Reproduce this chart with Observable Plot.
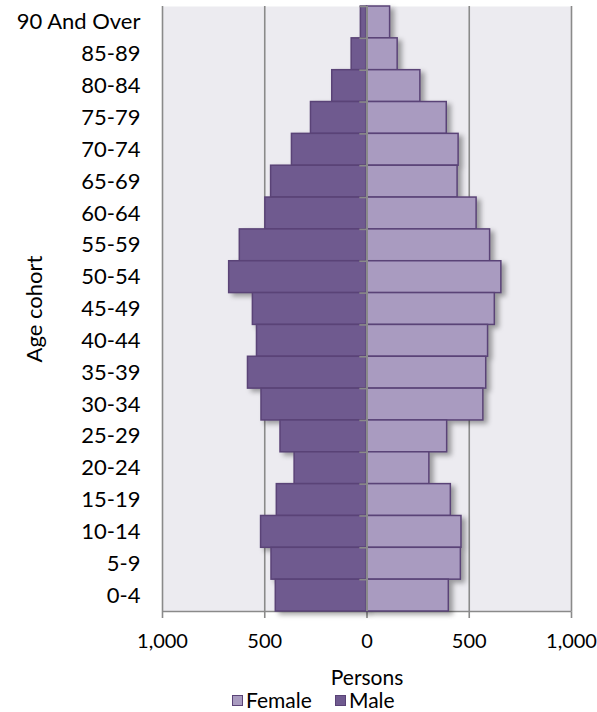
<!DOCTYPE html>
<html>
<head>
<meta charset="utf-8">
<script src="https://cdn.jsdelivr.net/npm/d3@7"></script>
<script src="https://cdn.jsdelivr.net/npm/@observablehq/plot@0.6"></script>
<style>
  body { margin: 0; background: #fff; font-family: Lato, "Open Sans", sans-serif; }
  #wrap { width: 597px; position: relative; }
  #wrap svg { overflow: visible; }
  #legend { height: 24px; position: relative; font-size: 21px; line-height: 22px; color: #000; }
  .item { position: absolute; top: 1px; height: 22px; display: flex; align-items: center; }
  .sw { width: 9px; height: 9px; border: 1px solid #5A4377; margin-right: 3px; }
</style>
</head>
<body>
<div id="wrap"></div>
<script>
const ages = ["90 And Over","85-89","80-84","75-79","70-74","65-69","60-64","55-59","50-54","45-49","40-44","35-39","30-34","25-29","20-24","15-19","10-14","5-9","0-4"];
const male =   [30, 75, 170, 274, 367, 469, 497, 622, 674, 558, 538, 582, 516, 423, 354, 441, 518, 467, 446];
const female = [113, 150, 261, 390, 448, 443, 536, 602, 657, 625, 592, 583, 569, 392, 305, 410, 462, 459, 400];
const xTicks = [-1000, -500, 0, 500, 1000];

const data = ages.map((a, i) => ({age: a, male: male[i], female: female[i]}));

const H = 688, mTop = 6, mBottom = H - 611;
const bw = (611 - mTop) / ages.length;

const chart = Plot.plot({
  width: 597,
  height: H,
  marginTop: mTop,
  marginBottom: mBottom,
  marginLeft: 162,
  marginRight: 26,
  style: {fontFamily: "Lato, 'Open Sans', sans-serif", fontSize: "22px", color: "#000", background: "#fff", overflow: "visible"},
  x: {
    domain: [-1000, 1000],
    ticks: xTicks,
    tickFormat: d => d3.format(",")(Math.abs(d)),
    tickSize: 7,
    tickPadding: 15,
    label: null
  },
  y: {
    domain: ages,
    padding: 0,
    round: false,
    tickSize: 0,
    tickPadding: 22,
    label: "Age cohort",
    labelAnchor: "center",
    labelOffset: 136
  },
  marks: [
    Plot.frame({fill: "#ECEBF0", stroke: null}),
    Plot.ruleX(xTicks.filter(d => d !== 0), {stroke: "#8a8a8a", strokeWidth: 1.6, strokeOpacity: 1}),
    Plot.ruleY([ages[ages.length - 1]], {dy: bw / 2, stroke: "#8a8a8a", strokeWidth: 1.6}),
    Plot.barX(data, {y: "age", x1: 0, x2: d => -d.male, fill: "#6F5A8F", stroke: "#5A4377", strokeWidth: 1.5}),
    Plot.barX(data, {y: "age", x1: 0, x2: "female", fill: "#A99BC0", stroke: "#5A4377", strokeWidth: 1.5}),
    Plot.ruleY(data, {y: "age", x1: -35, x2: 0, dy: -bw / 2, stroke: "#8a8a8a", strokeWidth: 1.6}),
    Plot.ruleX([0], {stroke: "#8a8a8a", strokeWidth: 2}),
    Plot.text(["Persons"], {frameAnchor: "bottom", dy: 73, text: d => d, fill: "#000", fontSize: 21})
  ]
});

// drop shadows on the bars
chart.querySelectorAll('g[aria-label="bar"]').forEach(g => g.style.filter = "drop-shadow(4px 3px 2.5px rgba(0,0,0,0.35))");
// gray axis ticks, smaller tick labels
const xt = chart.querySelector('g[aria-label="x-axis tick"]');
if (xt) { xt.setAttribute("stroke", "#8a8a8a"); xt.setAttribute("stroke-width", "1.6"); }
const xl = chart.querySelector('g[aria-label="x-axis tick label"]');
if (xl) xl.setAttribute("font-size", "20");

const wrap = document.getElementById("wrap");
wrap.appendChild(chart);

const legend = document.createElement("div");
legend.id = "legend";
legend.innerHTML = `
  <div class="item" style="left:232px"><div class="sw" style="background:#A99BC0"></div>Female</div>
  <div class="item" style="left:335px"><div class="sw" style="background:#6F5A8F"></div>Male</div>`;
wrap.appendChild(legend);
</script>
</body>
</html>
